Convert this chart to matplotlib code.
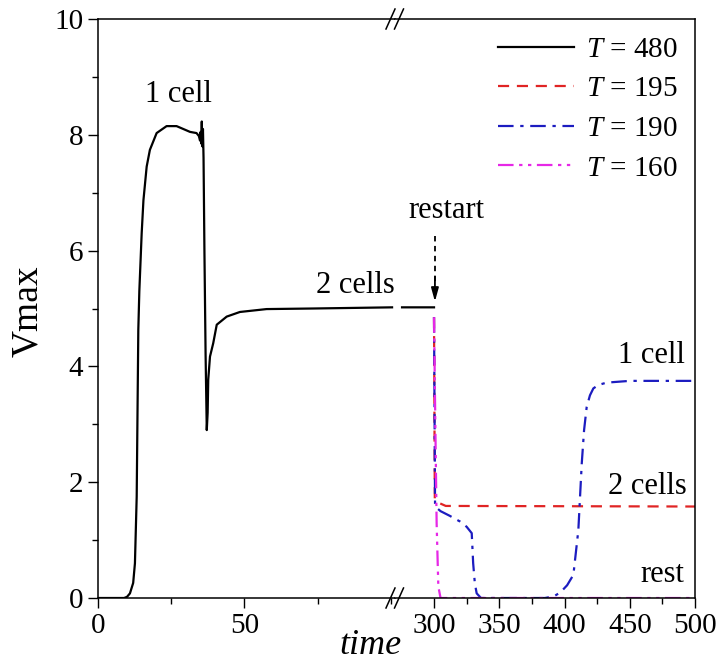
import numpy as np
import matplotlib
matplotlib.use("Agg")
import matplotlib.pyplot as plt
from matplotlib.lines import Line2D
from matplotlib.ticker import MultipleLocator

plt.rcParams['font.family'] = ['Liberation Serif', 'DejaVu Serif']
plt.rcParams['mathtext.fontset'] = 'custom'
plt.rcParams['mathtext.rm'] = 'Liberation Serif'
plt.rcParams['mathtext.it'] = 'Liberation Serif:italic'

# T = 480 run (before restart), left part of the broken axis
t480_x = [0, 9, 10, 11, 12.1, 12.7, 13.3, 13.85, 14.2, 15.0, 15.6, 16.7, 17.8, 20.1,
          23.5, 26.9, 31.5, 33.7, 34.5, 34.9, 35.1, 35.3, 35.5, 35.7, 35.9, 36.1,
          36.4, 36.8, 37.2, 37.5, 37.7, 38.3, 39.4, 40.6, 44.0, 48.5, 57.6, 73.5, 100.4,
          np.nan, 275.5, 300]
t480_y = [0, 0, 0.02, 0.08, 0.26, 0.6, 1.75, 4.63, 5.3, 6.3, 6.87, 7.45, 7.74, 8.03,
          8.15, 8.15, 8.05, 8.03, 7.98, 7.9, 8.05, 7.85, 8.23, 7.8, 8.1, 7.6,
          6.0, 4.2, 2.9, 3.2, 3.77, 4.17, 4.4, 4.72, 4.86, 4.94, 4.99, 5.0, 5.02,
          np.nan, 5.02, 5.02]

# runs after restart at time 300
t195_x = [300, 300.6, 303, 309, 500]
t195_y = [4.85, 1.72, 1.65, 1.59, 1.58]

t190_x = [300, 300.8, 305, 312, 320, 325, 328.9, 330, 331.3, 332.7, 336, 385, 392,
          397, 402, 406.8, 410.6, 413.2, 415, 417, 419.5, 422.1, 426, 432.3, 450, 500]
t190_y = [4.85, 1.58, 1.5, 1.42, 1.32, 1.23, 1.12, 0.6, 0.25, 0.08, 0.0, 0.0, 0.03,
          0.1, 0.22, 0.4, 1.17, 2.32, 2.9, 3.3, 3.5, 3.62, 3.68, 3.72, 3.75, 3.75]

t160_x = [300, 301, 302, 303.3, 305, 500]
t160_y = [4.85, 3.0, 1.3, 0.2, 0.0, 0.0]

labels = ["$T$ = 480", "$T$ = 195", "$T$ = 190", "$T$ = 160"]
colors = ["black", "#e02424", "#1c1cc0", "#e628e6"]
styles = ["-", (0, (5, 3.5)), (0, (7, 3, 1.5, 3)), (0, (7, 2.5, 1.5, 2.5, 1.5, 2.5))]

W, H = 718, 664
fig = plt.figure(figsize=(W / 100, H / 100), dpi=100)

x0, xb, x1 = 97.7, 395.0, 695.0
ytop, ybot = 19.0, 598.0
axL = fig.add_axes([x0 / W, 1 - ybot / H, (xb - x0) / W, (ybot - ytop) / H])
axR = fig.add_axes([xb / W, 1 - ybot / H, (x1 - xb) / W, (ybot - ytop) / H])

series = [(t480_x, t480_y), (t195_x, t195_y), (t190_x, t190_y), (t160_x, t160_y)]
for ax in (axL, axR):
    for (xs, ys), c, ls in zip(series, colors, styles):
        ax.plot(xs, ys, color=c, ls=ls, lw=1.6, clip_on=True)
    ax.set_ylim(0, 10)
    ax.tick_params(which='major', direction='out', length=7, width=1, labelsize=21)
    ax.tick_params(which='minor', direction='out', length=4.5, width=1)
    for s in ax.spines.values():
        s.set_linewidth(1.1)

axL.set_xlim(0, 101.4)
axL.set_xticks([0, 50])
axL.xaxis.set_minor_locator(MultipleLocator(25))
axL.yaxis.set_major_locator(MultipleLocator(2))
axL.yaxis.set_minor_locator(MultipleLocator(1))
axL.spines['right'].set_visible(False)

axR.set_xlim(270.1, 500)
axR.set_xticks([300, 350, 400, 450, 500])
axR.set_xticks([325, 375, 425, 475], minor=True)
axR.set_yticks([])
axR.spines['left'].set_visible(False)

# legend
handles = [Line2D([], [], color=c, ls=ls, lw=1.6) for c, ls in zip(colors, styles)]
axR.legend(handles, labels, loc='upper right', bbox_to_anchor=(1.0, 1.0),
           frameon=False, fontsize=21, handlelength=2.6, handletextpad=0.4,
           labelspacing=0.45, borderaxespad=0.2)

# annotations
fs = 22
axL.text(27.4, 8.69, "1 cell", fontsize=fs, ha='center', va='center')
axL.text(87.9, 5.4, "2 cells", fontsize=fs, ha='center', va='center')
axR.text(309.7, 6.7, "restart", fontsize=fs, ha='center', va='center')
axR.plot([300.7, 300.7], [6.25, 5.45], color='black', ls=(0, (3, 2.5)), lw=1.3)
axR.annotate("", xy=(300.7, 5.12), xytext=(300.7, 5.55),
             arrowprops=dict(arrowstyle='-|>,head_length=0.8,head_width=0.22',
                             color='black', lw=1.3, shrinkA=0, shrinkB=0))
axR.text(492, 4.18, "1 cell", fontsize=fs, ha='right', va='center')
axR.text(494, 1.92, "2 cells", fontsize=fs, ha='right', va='center')
axR.text(492, 0.40, "rest", fontsize=fs, ha='right', va='center')

# axis break marks
for yc in (ytop, ybot):
    for xc in (390.5, 399.0):
        fig.add_artist(Line2D([(xc - 4.5) / W, (xc + 4.5) / W],
                              [1 - (yc + 10) / H, 1 - (yc - 10) / H],
                              color='black', lw=1.1))

fig.text(370 / W, 1 - 645 / H, "time", fontsize=26, style='italic', ha='center', va='center')
fig.text(28 / W, 1 - 311 / H, "Vmax", fontsize=27, rotation=90, ha='center', va='center')

fig.savefig("out.png", dpi=100)
